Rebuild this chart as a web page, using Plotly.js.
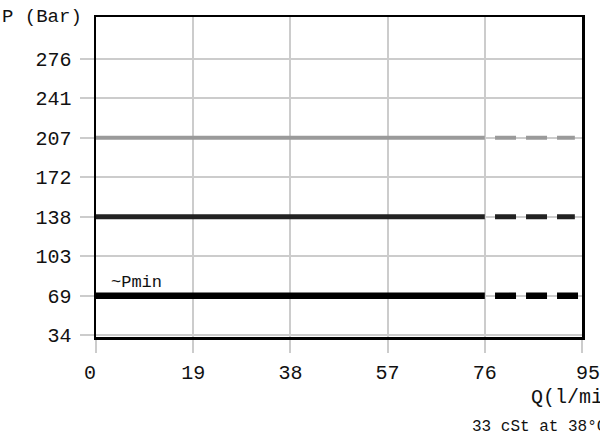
<!DOCTYPE html>
<html>
<head>
<meta charset="utf-8">
<script src="https://cdn.plot.ly/plotly-3.0.1.min.js"></script>
<style>
  html, body { margin: 0; padding: 0; background: #fff; }
  #chart { width: 600px; height: 437px; }
</style>
</head>
<body>
<div id="chart"></div>
<script>
// values
var flowTicks = [0, 19, 38, 57, 76, 95];
var flowLabels = ["0\u00a0", "19", "38", "57", "76", "\u00a095"];
var pressureTicks = [34.5, 69, 103.5, 138, 172.5, 207, 241.5, 276];
var pressureLabels = ["34", "69", "103", "138", "172", "207", "241", "276"];

var levels = [207, 138, 69];
var levelColors = ["#9a9a9a", "#222222", "#000000"];
var levelWidths = [4, 5, 6.5];
var solidEnd = 76;
var dashStart = 78;
var dashEnd = [93.6, 93.6, 95];

var font = "Liberation Mono, Courier New, monospace";

var data = [];
for (var i = 0; i < levels.length; i++) {
  data.push({
    x: [0, solidEnd],
    y: [levels[i], levels[i]],
    mode: "lines",
    line: { color: levelColors[i], width: levelWidths[i] },
    hoverinfo: "skip"
  });
  data.push({
    x: [dashStart, dashEnd[i]],
    y: [levels[i], levels[i]],
    mode: "lines",
    line: { color: levelColors[i], width: levelWidths[i], dash: "21px,10px" },
    hoverinfo: "skip"
  });
}

var layout = {
  width: 600,
  height: 437,
  showlegend: false,
  plot_bgcolor: "#fff",
  paper_bgcolor: "#fff",
  font: { family: font, size: 20, color: "#111" },
  margin: { l: 96, r: 18, t: 17, b: 100 },
  xaxis: {
    range: [0, 95],
    tickvals: flowTicks,
    ticktext: flowLabels,
    ticklabeloverflow: "allow",
    showgrid: true,
    gridcolor: "#cccccc",
    gridwidth: 2,
    ticks: "outside",
    ticklen: 13,
    tickwidth: 2,
    tickcolor: "#cccccc",
    ticklabelstandoff: 2,
    showline: true,
    linecolor: "#000",
    linewidth: 2.5,
    mirror: true,
    zeroline: false,
    fixedrange: true
  },
  yaxis: {
    range: [33, 312.5],
    tickvals: pressureTicks,
    ticktext: pressureLabels,
    showgrid: true,
    gridcolor: "#cccccc",
    gridwidth: 2,
    ticks: "outside",
    ticklen: 14,
    tickwidth: 2,
    tickcolor: "#cccccc",
    ticklabelstandoff: 4,
    showline: true,
    linecolor: "#000",
    linewidth: 2.5,
    mirror: true,
    zeroline: false,
    fixedrange: true
  },
  annotations: [
    {
      text: "P (Bar)", xref: "paper", yref: "paper",
      x: -96 / 486, y: 1, xanchor: "left", yanchor: "middle",
      showarrow: false, font: { family: font, size: 19, color: "#111" }
    },
    {
      text: "~Pmin", xref: "x", yref: "y",
      x: 2.6, y: 81, xanchor: "left", yanchor: "middle",
      showarrow: false, font: { family: font, size: 17, color: "#111" }
    },
    {
      text: "Q(l/min)", xref: "paper", yref: "paper",
      x: 0.89, y: -0.19, xanchor: "left", yanchor: "middle",
      showarrow: false, font: { family: font, size: 20, color: "#111" }
    },
    {
      text: "33 cSt at 38\u00b0C", xref: "paper", yref: "paper",
      x: 0.77, y: -0.28, xanchor: "left", yanchor: "middle",
      showarrow: false, font: { family: font, size: 16, color: "#111" }
    }
  ]
};

Plotly.newPlot("chart", data, layout, { displayModeBar: false, staticPlot: true });
</script>
</body>
</html>
